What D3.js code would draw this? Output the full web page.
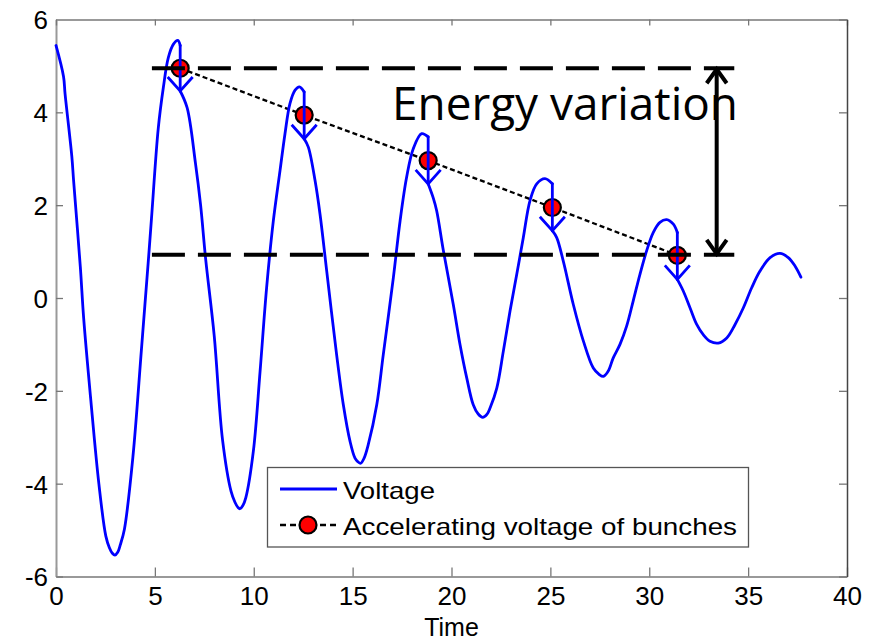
<!DOCTYPE html>
<html>
<head>
<meta charset="utf-8">
<script src="https://cdn.jsdelivr.net/npm/d3@7"></script>
<style>
  html, body { margin: 0; padding: 0; background: #fff; }
  svg { display: block; }
  .ax text { font-family: "Liberation Sans", Arial, sans-serif; font-size: 26px; fill: #000; }
</style>
</head>
<body>
<svg id="chart" width="884" height="641"></svg>
<script>
// ---------------- data ----------------
const xTicks = [0, 5, 10, 15, 20, 25, 30, 35, 40];
const yTicks = [-6, -4, -2, 0, 2, 4, 6];
const xLabel = "Time";

const voltageT = [0, 0.38, 0.46, 0.80, 0.89, 1.23, 1.40, 1.75, 2.17, 2.52, 2.70, 2.85, 2.98, 3.12, 3.25, 3.46, 3.89, 4.32, 4.66, 4.83, 5.17, 5.43, 5.68, 5.94, 6.16, 6.28,
  6.28, 6.63, 7.05, 7.31, 7.57, 8.00, 8.42, 8.85, 9.05, 9.20, 9.30, 9.45, 9.60, 9.98, 10.32, 10.65, 10.99, 11.33, 11.58, 11.83, 12.09, 12.31, 12.55,
  12.55, 12.76, 13.10, 13.35, 13.69, 14.19, 14.53, 14.87, 15.12, 15.27, 15.41, 15.58, 15.79, 16.22, 16.55, 17.06, 17.40, 17.73, 18.07, 18.49, 18.82,
  18.82, 19.08, 19.25, 19.59, 20.09, 20.43, 20.77, 21.10, 21.35, 21.58, 21.80, 21.95, 22.29, 22.62, 22.96, 23.30, 23.63, 23.97, 24.31, 24.73, 25.10,
  25.10, 25.32, 25.65, 26.16, 26.67, 27.17, 27.45, 27.68, 27.92, 28.18, 28.52, 28.86, 29.19, 29.53, 29.87, 30.20, 30.54, 30.88, 31.22, 31.42,
  31.42, 31.72, 32.06, 32.40, 32.73, 33.07, 33.49, 33.92, 34.34, 34.76, 35.18, 35.60, 36.11, 36.61, 37.03, 37.37, 37.67];
const voltageV = [5.44, 4.77, 4.39, 3.05, 2.53, 0.67, -0.44, -2.15, -4.01, -5.13, -5.38, -5.50, -5.54, -5.48, -5.32, -4.98, -3.42, -1.11, 0.75, 1.72, 3.65, 4.54, 5.18, 5.47, 5.55, 5.44,
  4.46, 4.10, 2.91, 2.01, 0.83, -0.81, -3.05, -4.16, -4.40, -4.51, -4.54, -4.47, -4.30, -3.30, -1.58, 0.22, 1.66, 2.75, 3.54, 4.19, 4.48, 4.55, 4.44,
  3.43, 3.25, 2.53, 1.81, 0.58, -1.22, -2.30, -3.09, -3.45, -3.53, -3.56, -3.45, -3.16, -2.30, -1.22, 0.44, 1.66, 2.60, 3.22, 3.54, 3.47,
  2.46, 2.15, 1.88, 1.02, -0.14, -1.00, -1.72, -2.30, -2.50, -2.57, -2.50, -2.37, -1.94, -1.15, -0.28, 0.51, 1.30, 2.10, 2.46, 2.57, 2.46,
  1.45, 1.30, 0.80, -0.14, -0.93, -1.51, -1.64, -1.69, -1.58, -1.29, -1.00, -0.60, -0.06, 0.51, 1.02, 1.41, 1.63, 1.69, 1.59, 1.41,
  0.40, 0.15, -0.21, -0.57, -0.79, -0.93, -0.97, -0.86, -0.57, -0.21, 0.22, 0.58, 0.87, 0.96, 0.87, 0.69, 0.45];

const bunchT = [6.28, 12.55, 18.82, 25.10, 31.42];
const bunchV = [4.95, 3.94, 2.96, 1.95, 0.92];
const kickTip = [4.46, 3.43, 2.46, 1.45, 0.40];

const energyLevels = [4.95, 0.93];
const energySpan = [4.85, 34.3];
const energyArrowT = 33.41;
const annotation = "Energy variation";

const legendLabels = ["Voltage", "Accelerating voltage of bunches"];

// ---------------- chart ----------------
const svg = d3.select("#chart");
svg.append("rect").attr("width", 884).attr("height", 641).attr("fill", "#fff");

const L = 56, R = 847, T = 19.5, B = 576.5;
const x = d3.scaleLinear().domain([0, 40]).range([L, R]);
const y = d3.scaleLinear().domain([-6, 6]).range([B, T]);
const fmt = d => String(d);

// axes
const gB = svg.append("g").attr("class", "ax").attr("transform", `translate(0,${B})`)
  .call(d3.axisBottom(x).tickValues(xTicks).tickSizeInner(-9).tickSizeOuter(0).tickPadding(10).tickFormat(fmt));
const gL = svg.append("g").attr("class", "ax").attr("transform", `translate(${L},0)`)
  .call(d3.axisLeft(y).tickValues(yTicks).tickSizeInner(-7).tickSizeOuter(0).tickPadding(8).tickFormat(fmt));
const gT = svg.append("g").attr("class", "ax").attr("transform", `translate(0,${T})`)
  .call(d3.axisTop(x).tickValues(xTicks).tickSizeInner(-6).tickSizeOuter(0).tickFormat(""));
const gR = svg.append("g").attr("class", "ax").attr("transform", `translate(${R},0)`)
  .call(d3.axisRight(y).tickValues(yTicks).tickSizeInner(-8).tickSizeOuter(0).tickFormat(""));
[gB, gL, gT].forEach(g => {
  g.select(".domain").attr("stroke", "#999").attr("stroke-width", 2);
  g.selectAll(".tick line").attr("stroke", "#777").attr("stroke-width", 1.3);
});
gR.select(".domain").attr("stroke", "#444").attr("stroke-width", 1.5);
gR.selectAll(".tick line").attr("stroke", "#777").attr("stroke-width", 1.3);
gL.selectAll(".tick text").attr("dy", "0.36em");
gB.selectAll(".tick text").attr("dy", "0.72em");

svg.append("text").attr("x", (L + R) / 2).attr("y", 636).attr("text-anchor", "middle")
  .attr("font-family", '"Liberation Sans", Arial, sans-serif').attr("font-size", 25).text(xLabel);

// dotted line connecting bunches
const bunches = bunchT.map((t, i) => ({ t, v: bunchV[i], tip: kickTip[i] }));
svg.append("path").datum(bunches)
  .attr("d", d3.line().x(d => x(d.t)).y(d => y(d.v)))
  .attr("fill", "none").attr("stroke", "#000").attr("stroke-width", 2.3).attr("stroke-dasharray", "5,3");

// markers
svg.selectAll("circle.bunch").data(bunches).join("circle").attr("class", "bunch")
  .attr("cx", d => x(d.t)).attr("cy", d => y(d.v)).attr("r", 8.5)
  .attr("fill", "#ff0000").attr("stroke", "#000").attr("stroke-width", 2.2);

// voltage curve: smooth pieces between bunch kicks, straight vertical kicks
const volt = voltageT.map((t, i) => ({ t, v: voltageV[i] }));
const pieces = [[]];
const kicks = [];
volt.forEach((d, i) => {
  if (i > 0 && d.t === volt[i - 1].t) {
    kicks.push([volt[i - 1], d]);
    pieces.push([]);
  }
  pieces[pieces.length - 1].push(d);
});
const smooth = d3.line().x(d => x(d.t)).y(d => y(d.v)).curve(d3.curveCatmullRom.alpha(0.5));
const straight = d3.line().x(d => x(d.t)).y(d => y(d.v));
const vg = svg.append("g").attr("fill", "none").attr("stroke", "#0000ff").attr("stroke-width", 2.8)
  .attr("stroke-linejoin", "round").attr("stroke-linecap", "round");
vg.selectAll("path.piece").data(pieces).join("path").attr("class", "piece").attr("d", smooth);
vg.selectAll("path.kickline").data(kicks).join("path").attr("class", "kickline").attr("d", straight);

// blue arrowheads at kick ends
svg.selectAll("path.kick").data(bunches).join("path").attr("class", "kick")
  .attr("d", d => {
    const tx = x(d.t), ty = y(d.tip);
    return `M${tx - 12.5},${ty - 14}L${tx},${ty}L${tx + 12.5},${ty - 14}`;
  })
  .attr("fill", "none").attr("stroke", "#0000ff").attr("stroke-width", 2.8);

// energy variation dashed levels
svg.selectAll("line.level").data(energyLevels).join("line").attr("class", "level")
  .attr("x1", x(energySpan[0])).attr("x2", x(energySpan[1]))
  .attr("y1", d => y(d)).attr("y2", d => y(d))
  .attr("stroke", "#000").attr("stroke-width", 4).attr("stroke-dasharray", "33,13");

// double arrow
const ax = x(energyArrowT), ay1 = y(energyLevels[0]), ay2 = y(energyLevels[1]);
svg.append("line").attr("x1", ax).attr("x2", ax).attr("y1", ay1 + 1).attr("y2", ay2 - 1)
  .attr("stroke", "#000").attr("stroke-width", 4);
svg.append("path").attr("d", `M${ax - 10},${ay1 + 15}L${ax},${ay1 + 1}L${ax + 10},${ay1 + 15}`)
  .attr("fill", "none").attr("stroke", "#000").attr("stroke-width", 4);
svg.append("path").attr("d", `M${ax - 10},${ay2 - 15}L${ax},${ay2 - 1}L${ax + 10},${ay2 - 15}`)
  .attr("fill", "none").attr("stroke", "#000").attr("stroke-width", 4);

svg.append("text").attr("x", 392).attr("y", 120)
  .attr("font-family", '"Open Sans", "Noto Sans", sans-serif').attr("font-size", 45)
  .attr("textLength", 346).attr("lengthAdjust", "spacingAndGlyphs")
  .text(annotation);

// legend
const lg = svg.append("g");
lg.append("rect").attr("x", 267.5).attr("y", 467.5).attr("width", 481).attr("height", 79.5)
  .attr("fill", "#fff").attr("stroke", "#555").attr("stroke-width", 1.3);
lg.append("line").attr("x1", 280).attr("x2", 337).attr("y1", 489).attr("y2", 489)
  .attr("stroke", "#0000ff").attr("stroke-width", 2.8);
lg.append("line").attr("x1", 280).attr("x2", 337).attr("y1", 525).attr("y2", 525)
  .attr("stroke", "#000").attr("stroke-width", 2.3).attr("stroke-dasharray", "6,4");
lg.append("circle").attr("cx", 308).attr("cy", 525).attr("r", 8.5)
  .attr("fill", "#ff0000").attr("stroke", "#000").attr("stroke-width", 2.2);
lg.selectAll("text").data(legendLabels).join("text")
  .attr("x", 343).attr("y", (d, i) => i === 0 ? 499 : 535)
  .attr("font-family", '"Liberation Sans", Arial, sans-serif').attr("font-size", 24)
  .attr("textLength", (d, i) => i === 0 ? 92 : 394).attr("lengthAdjust", "spacingAndGlyphs")
  .text(d => d);
</script>
</body>
</html>
